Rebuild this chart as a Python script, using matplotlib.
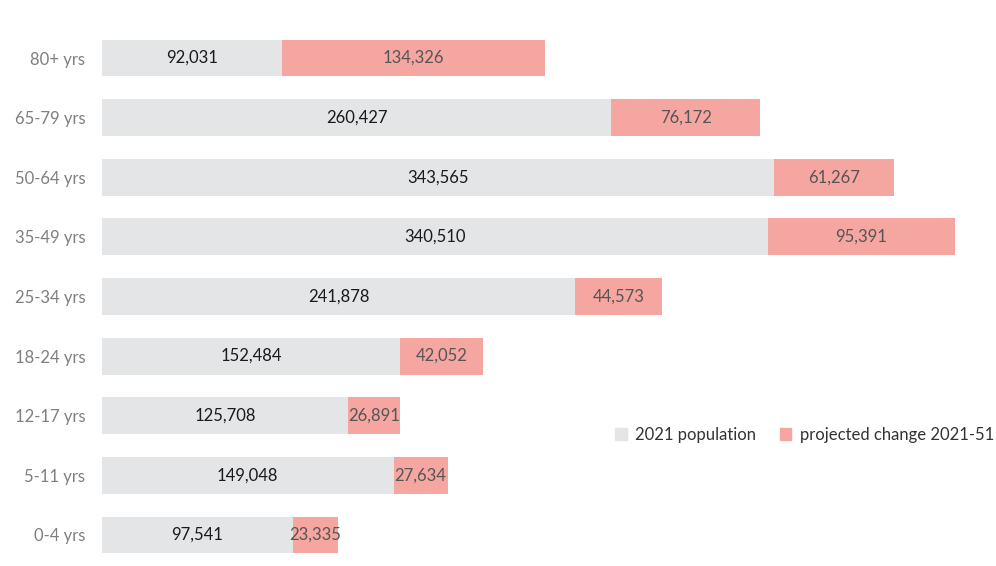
import matplotlib.pyplot as plt
from matplotlib.patches import Patch

age_groups = ["0-4 yrs", "5-11 yrs", "12-17 yrs", "18-24 yrs", "25-34 yrs",
              "35-49 yrs", "50-64 yrs", "65-79 yrs", "80+ yrs"]
pop_2021 = [97541, 149048, 125708, 152484, 241878, 340510, 343565, 260427, 92031]
change_2021_51 = [23335, 27634, 26891, 42052, 44573, 95391, 61267, 76172, 134326]

grey = "#E4E5E7"
pink = "#F5A6A1"

plt.rcParams['font.family'] = ['Lato', 'DejaVu Sans']

fig = plt.figure(figsize=(9.96, 5.66), dpi=100)
ax = fig.add_axes([102 / 996, 1.2 / 566, (996 - 102) / 996, 536.6 / 566])

y = list(range(len(age_groups)))
h = 0.62
ax.barh(y, pop_2021, height=h, color=grey, label="2021 population")
ax.barh(y, change_2021_51, left=pop_2021, height=h, color=pink,
        label="projected change 2021-51")

for yi, p, c in zip(y, pop_2021, change_2021_51):
    ax.text(p / 2, yi, f"{p:,}", ha="center", va="center", fontsize=12, color="#1a1a1a")
    ax.text(p + c / 2, yi, f"{c:,}", ha="center", va="center", fontsize=12, color="#555555")

ax.set_xlim(0, (996 - 102) / 1.956e-3)
ax.set_ylim(-0.5, len(age_groups) - 0.5)
ax.set_yticks(y)
ax.set_yticklabels(age_groups, fontsize=12, color="#7f7f7f")
ax.tick_params(axis="y", length=0, pad=12)
ax.set_xticks([])
for s in ax.spines.values():
    s.set_visible(False)

handles = [Patch(color=grey, label="2021 population"),
           Patch(color=pink, label="projected change 2021-51")]
fig.legend(handles=handles, loc="center right", bbox_to_anchor=(0.998, 1 - 435 / 566),
           ncol=2, frameon=False, fontsize=12, handlelength=0.7, handleheight=0.7,
           handletextpad=0.5, columnspacing=1.4, labelcolor="#333333",
           borderaxespad=0, borderpad=0)

fig.savefig("out.png", dpi=100)
